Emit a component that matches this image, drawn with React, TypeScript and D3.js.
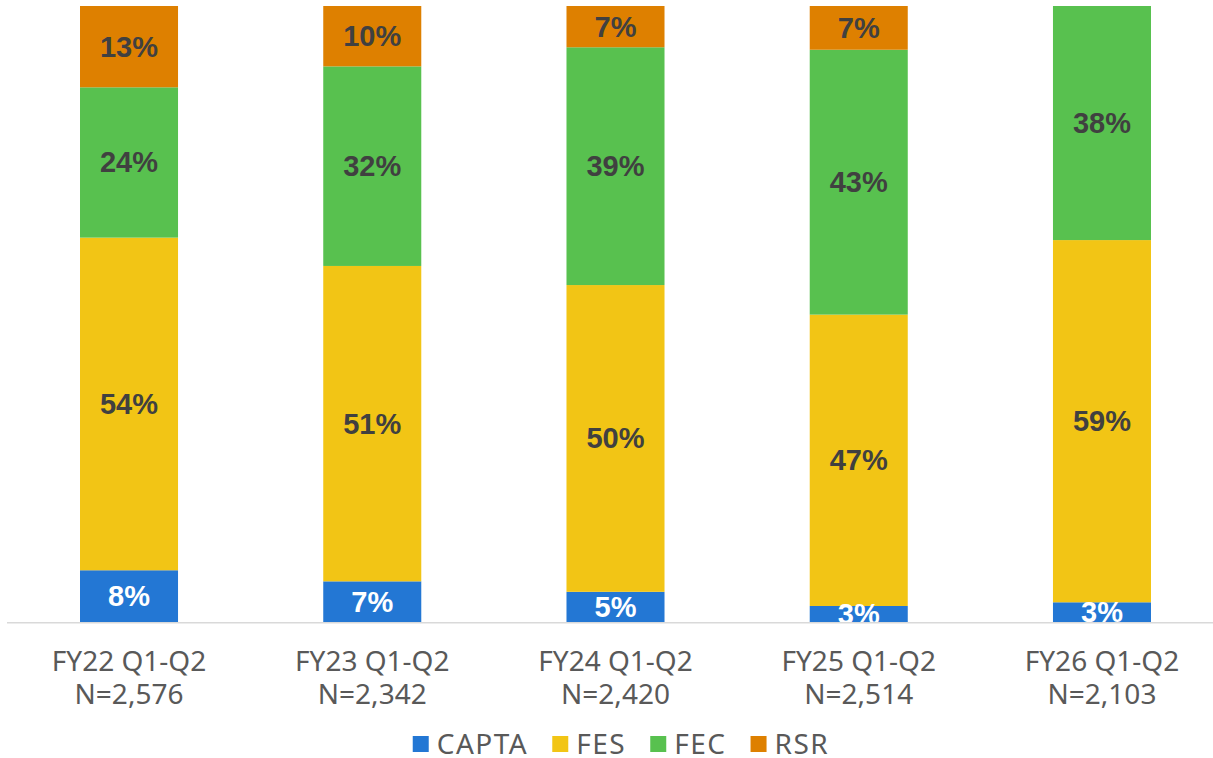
import { useRef, useEffect } from 'react';
import * as d3 from 'd3';

const categories = ['FY22 Q1-Q2', 'FY23 Q1-Q2', 'FY24 Q1-Q2', 'FY25 Q1-Q2', 'FY26 Q1-Q2'];
const sampleSizes = ['N=2,576', 'N=2,342', 'N=2,420', 'N=2,514', 'N=2,103'];
const seriesNames = ['CAPTA', 'FES', 'FEC', 'RSR'];
const capta = [8.4, 6.6, 4.9, 2.6, 3.2];
const fes = [54.0, 51.2, 49.8, 47.3, 58.8];
const fec = [24.4, 32.4, 38.6, 43.0, 38.0];
const rsr = [13.2, 9.8, 6.7, 7.1, 0];

const colors = ['#2377D4', '#F2C515', '#58C14F', '#DE8000'];
const labelColors = ['#ffffff', '#404040', '#404040', '#404040'];

const W = 1213;
const H = 758;
const top = 6;
const base = 622;

const App = () => {
  const svgRef = useRef<SVGSVGElement>(null);

  useEffect(() => {
    document.body.style.margin = '0';
    const svg = d3.select(svgRef.current);
    svg.selectAll('*').remove();

    const rows = categories.map((c, i) => ({
      cat: c,
      CAPTA: capta[i],
      FES: fes[i],
      FEC: fec[i],
      RSR: rsr[i],
    }));

    const stack = d3
      .stack<any>()
      .keys(seriesNames)
      .offset(d3.stackOffsetExpand);
    const series = stack(rows);

    const x = d3
      .scaleBand()
      .domain(categories)
      .range([7.4, 1223.6])
      .paddingInner(0.597)
      .paddingOuter(0.2985);

    const y = d3.scaleLinear().domain([0, 1]).range([base, top]);

    svg
      .append('defs')
      .append('clipPath')
      .attr('id', 'plotclip')
      .append('rect')
      .attr('x', 0)
      .attr('y', 0)
      .attr('width', W)
      .attr('height', base);

    const groups = svg
      .selectAll('.series')
      .data(series)
      .join('g')
      .attr('class', 'series')
      .attr('fill', (d, i) => colors[i]);

    groups
      .selectAll('rect')
      .data((d) => d)
      .join('rect')
      .attr('x', (d: any) => x(d.data.cat)!)
      .attr('y', (d) => y(d[1]))
      .attr('width', x.bandwidth())
      .attr('height', (d) => y(d[0]) - y(d[1]));

    const labels = svg.append('g').attr('clip-path', 'url(#plotclip)');
    series.forEach((s, si) => {
      labels
        .selectAll(null)
        .data(s.filter((d) => d.data[seriesNames[si]] > 0))
        .join('text')
        .attr('x', (d: any) => x(d.data.cat)! + x.bandwidth() / 2)
        .attr('y', (d) => (y(d[0]) + y(d[1])) / 2)
        .attr('text-anchor', 'middle')
        .attr('dominant-baseline', 'central')
        .attr('font-family', '"Liberation Sans", Arial, sans-serif')
        .attr('font-weight', 'bold')
        .attr('font-size', 29)
        .attr('fill', labelColors[si])
        .text((d: any) => `${Math.round(d.data[seriesNames[si]])}%`);
    });

    // baseline
    svg
      .append('line')
      .attr('x1', 7)
      .attr('x2', W)
      .attr('y1', base + 0.75)
      .attr('y2', base + 0.75)
      .attr('stroke', '#D9D9D9')
      .attr('stroke-width', 1.5);

    // category labels
    const axisText = svg
      .append('g')
      .attr('font-family', '"Noto Sans", sans-serif')
      .attr('font-size', 28)
      .attr('fill', '#595959')
      .attr('text-anchor', 'middle');
    axisText
      .selectAll('.l1')
      .data(categories)
      .join('text')
      .attr('x', (d) => x(d)! + x.bandwidth() / 2)
      .attr('y', 671)
      .text((d) => d);
    axisText
      .selectAll('.l2')
      .data(sampleSizes)
      .join('text')
      .attr('x', (d, i) => x(categories[i])! + x.bandwidth() / 2)
      .attr('y', 704)
      .text((d) => d);

    // legend
    const legend = svg
      .append('g')
      .attr('font-family', '"Noto Sans", sans-serif')
      .attr('font-size', 28)
      .attr('letter-spacing', 1.5)
      .attr('fill', '#595959');
    const items = legend
      .selectAll('g')
      .data(seriesNames)
      .join('g');
    items
      .append('rect')
      .attr('width', 16)
      .attr('height', 16)
      .attr('y', 736)
      .attr('fill', (d, i) => colors[i]);
    items
      .append('text')
      .attr('x', 24)
      .attr('y', 754)
      .text((d) => d);
    let offset = 0;
    const positions: number[] = [];
    items.each(function () {
      const t = d3.select(this).select('text').node() as SVGTextElement;
      positions.push(offset);
      offset += 24 + t.getComputedTextLength() + 24;
    });
    const totalW = offset - 24;
    const start = 621 - totalW / 2;
    items.attr('transform', (d, i) => `translate(${start + positions[i]},0)`);
  }, []);

  return (
    <svg
      ref={svgRef}
      width={W}
      height={H}
      style={{ position: 'absolute', left: 0, top: 0, background: '#fff' }}
    />
  );
};

export default App;
